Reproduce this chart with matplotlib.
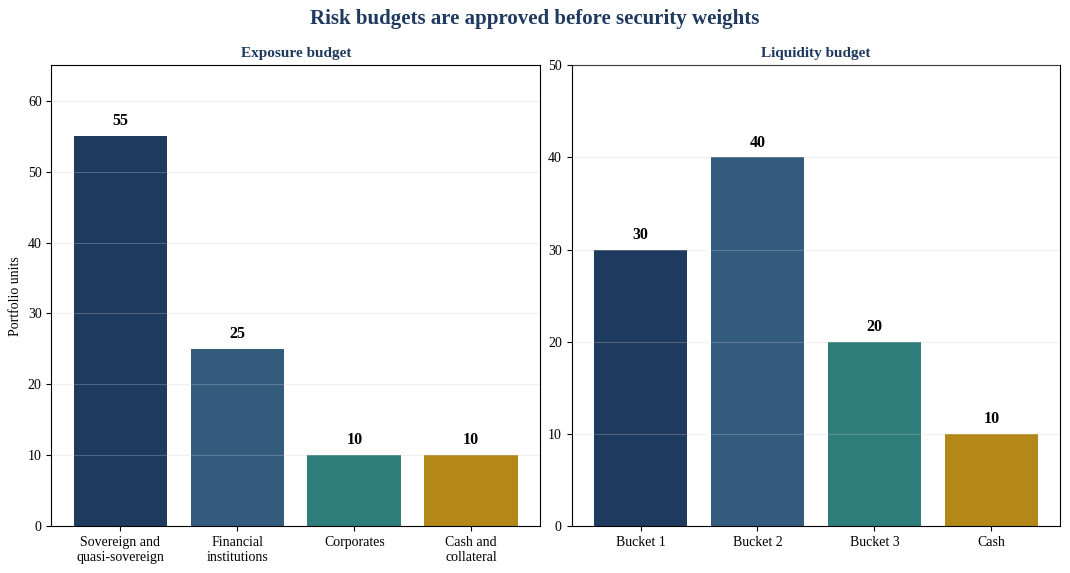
import matplotlib
matplotlib.use('Agg')
import matplotlib.pyplot as plt

# 데이터
exposure_labels = ["Sovereign and\nquasi-sovereign", "Financial\ninstitutions", "Corporates", "Cash and\ncollateral"]
exposure_values = [55, 25, 10, 10]
liquidity_labels = ["Bucket 1", "Bucket 2", "Bucket 3", "Cash"]
liquidity_values = [30, 40, 20, 10]
bar_colors = ["#1f3a5f", "#335b7e", "#2e7d7a", "#b38818"]

plt.rcParams['font.family'] = ['Liberation Serif', 'DejaVu Serif']
title_color = "#1f3a5f"

fig, (ax1, ax2) = plt.subplots(1, 2, figsize=(10.7, 5.73), dpi=100)
fig.subplots_adjust(left=0.048, right=0.991, top=0.886, bottom=0.082, wspace=0.064)


def draw_panel(ax, labels, values, ymax, yticks, title):
    x = range(len(values))
    bars = ax.bar(x, values, width=0.8, color=bar_colors)
    ax.set_xticks(list(x))
    ax.set_xticklabels(labels, fontsize=10)
    ax.set_ylim(0, ymax)
    ax.set_yticks(yticks)
    ax.tick_params(axis='y', labelsize=10)
    ax.grid(axis='y', color='#cccccc', alpha=0.3, linewidth=0.7)
    ax.set_axisbelow(False)
    ax.set_title(title, fontsize=11, fontweight='bold', color=title_color, pad=6)
    for b, v in zip(bars, values):
        ax.annotate(f"{v}", (b.get_x() + b.get_width() / 2, v),
                    xytext=(0, 5), textcoords='offset points',
                    ha='center', va='bottom', fontsize=11.5, fontweight='bold')


draw_panel(ax1, exposure_labels, exposure_values, 65, [0, 10, 20, 30, 40, 50, 60], "Exposure budget")
draw_panel(ax2, liquidity_labels, liquidity_values, 50, [0, 10, 20, 30, 40, 50], "Liquidity budget")
ax1.set_ylabel("Portfolio units", fontsize=10)

fig.suptitle("Risk budgets are approved before security weights", fontsize=15,
             fontweight='bold', color=title_color, y=0.985)

fig.savefig("out.png", dpi=100)
